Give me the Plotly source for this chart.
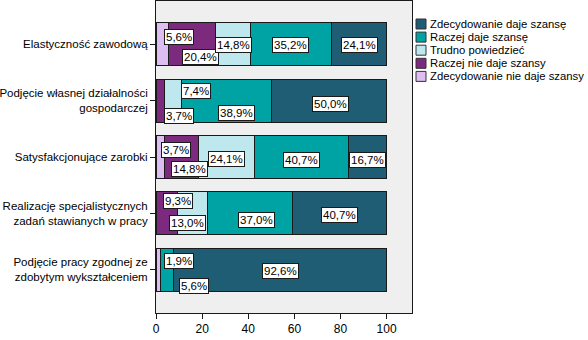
import plotly.graph_objects as go

categories = [
    "Elastyczność zawodową",
    "Podjęcie własnej działalności<br>gospodarczej",
    "Satysfakcjonujące zarobki",
    "Realizację specjalistycznych<br>zadań stawianych w pracy",
    "Podjęcie pracy zgodnej ze<br>zdobytym wykształceniem",
]
series_names = [
    "Zdecydowanie nie daje szansy",
    "Raczej nie daje szansy",
    "Trudno powiedzieć",
    "Raczej daje szansę",
    "Zdecydowanie daje szansę",
]
zdec_nie = [5.6, 0.0, 3.7, 0.0, 1.9]
raczej_nie = [20.4, 3.7, 14.8, 9.3, 0.0]
trudno = [14.8, 7.4, 24.1, 13.0, 0.0]
raczej_tak = [35.2, 38.9, 40.7, 37.0, 5.6]
zdec_tak = [24.1, 50.0, 16.7, 40.7, 92.6]
x_ticks = [0, 20, 40, 60, 80, 100]

series_values = [zdec_nie, raczej_nie, trudno, raczej_tak, zdec_tak]
colors = ["#dcbef0", "#7b2a7e", "#bfe8ee", "#00a3a3", "#1f5d75"]
FONT = "Liberation Sans, Arial, sans-serif"

# label offsets (px) per (series, category): (xshift, yshift)
offsets = {
    (0, 0): (17, 7), (1, 0): (8, -13), (2, 0): (0, -1), (3, 0): (0, -1), (4, 0): (0, -1),
    (1, 1): (19, -15), (2, 1): (23, 10), (3, 1): (10, -12), (4, 1): (2, -3),
    (0, 2): (16, 7), (1, 2): (8, -12), (2, 2): (0, -2), (3, 2): (0, -3), (4, 2): (0, -3),
    (1, 3): (11, 12), (2, 3): (-5, -10), (3, 3): (6, -7), (4, 3): (0, -2),
    (0, 4): (21, 9), (3, 4): (27, -16), (4, 4): (0, -1),
}

# plot area in pixels
L, R, T, B = 156, 412, 1, 313
W, H = 588, 340

fig = go.Figure()
ypos = list(range(len(categories)))
for s, (name, vals, col) in enumerate(zip(series_names, series_values, colors)):
    fig.add_trace(go.Bar(
        y=ypos, x=vals, name=name, orientation="h",
        marker=dict(color=col, line=dict(color="#1a1a1a", width=1)),
        width=0.76, showlegend=False,
    ))

annotations = []
for c in range(len(categories)):
    cum = 0.0
    for s in range(len(series_names)):
        v = series_values[s][c]
        if v > 0:
            dx, dy = offsets.get((s, c), (0, 0))
            annotations.append(dict(
                x=cum + v / 2, y=c, xref="x", yref="y",
                text=f"{v:.1f}%".replace(".", ","), showarrow=False,
                xshift=dx, yshift=dy,
                bgcolor="white", bordercolor="#1a1a1a", borderwidth=1, borderpad=1,
                font=dict(family=FONT, size=11.5, color="black"),
            ))
        cum += v

# legend (top item = last series)
shapes = []
def px_x(p):
    return (p - L) / (R - L)
def px_y(p):
    return (B - p) / (B - T)
leg_top, leg_step = 24, 13.1
for i, s in enumerate(reversed(range(len(series_names)))):
    yc = leg_top + i * leg_step
    shapes.append(dict(
        type="rect", xref="paper", yref="paper",
        x0=px_x(416), x1=px_x(426), y0=px_y(yc + 5), y1=px_y(yc - 5),
        fillcolor=colors[s], line=dict(color="#333333", width=1),
    ))
    annotations.append(dict(
        x=px_x(427.5), y=px_y(yc), xref="paper", yref="paper",
        xanchor="left", yanchor="middle", text=series_names[s], showarrow=False,
        font=dict(family=FONT, size=11.3, color="black"),
    ))

fig.update_layout(
    barmode="stack",
    width=W, height=H,
    margin=dict(l=L, r=W - R, t=T, b=H - B, autoexpand=False),
    paper_bgcolor="white",
    plot_bgcolor="#efefef",
    font=dict(family=FONT, size=11.5, color="black"),
    annotations=annotations,
    shapes=shapes,
    showlegend=False,
    bargap=0.24,
)
fig.update_xaxes(
    range=[0, 111], tickvals=x_ticks, ticks="outside", ticklen=5,
    tickcolor="#1a1a1a", showgrid=False, zeroline=False,
    showline=True, linecolor="#1a1a1a", mirror=True, fixedrange=True,
    tickfont=dict(size=12),
)
fig.update_yaxes(
    range=[4.77, -0.77], tickvals=ypos, ticktext=categories,
    ticks="outside", ticklen=5, tickcolor="#1a1a1a", showgrid=False,
    zeroline=False, showline=True, linecolor="#1a1a1a", mirror=True,
)
fig.write_html("out.html")
